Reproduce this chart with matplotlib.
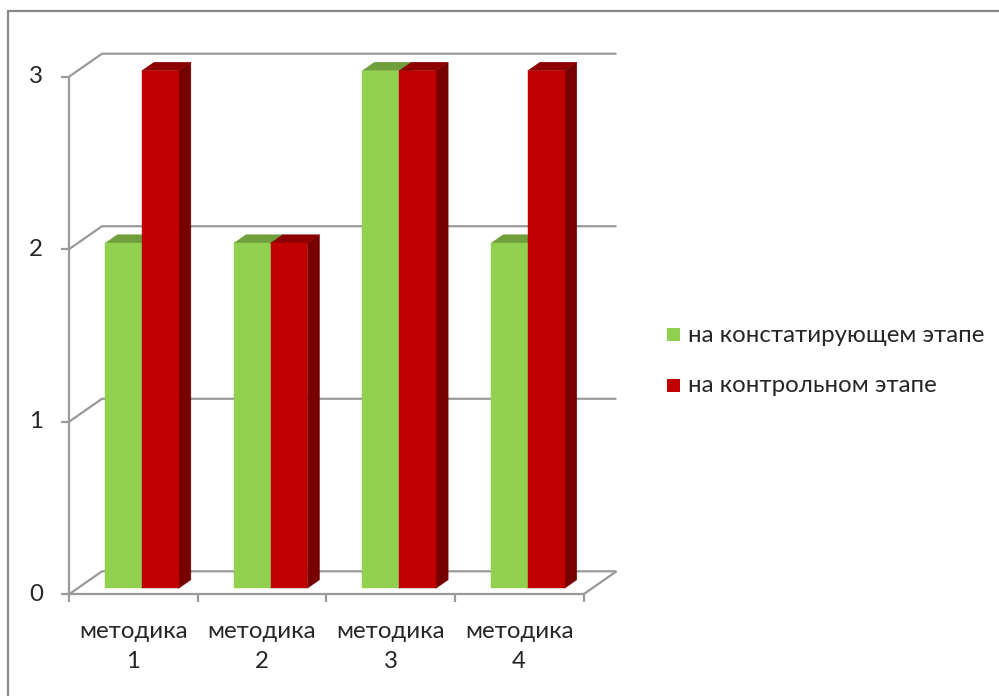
"""Pseudo-3D clustered column chart: results by method at two stages."""
import matplotlib.pyplot as plt
import matplotlib.transforms as mtransforms
import numpy as np
from matplotlib.patches import Polygon, Rectangle

plt.rcParams["font.family"] = ["Lato", "DejaVu Sans"]

categories = ["методика\n1", "методика\n2", "методика\n3", "методика\n4"]
series_names = ["на констатирующем этапе", "на контрольном этапе"]
values_start = [2, 2, 3, 2]
values_control = [3, 2, 3, 3]
y_ticks = [0, 1, 2, 3]

# front / top / side face colours per series
face_colors = [
    ("#92D050", "#6F9F3B", "#5E8A2F"),
    ("#C00000", "#8E0000", "#760000"),
]
grid_color = "#9A9A9A"
text_color = "#262626"

W, H = 999, 696
fig = plt.figure(figsize=(W / 100, H / 100), dpi=100)
fig.patch.set_facecolor("white")

# axes box = front plane of the 3D plot area
ax = fig.add_axes([69 / W, (H - 594.3) / H, 514.5 / W, 517.6 / H])
ax.set_xlim(0, len(categories))
ax.set_ylim(0, max(y_ticks))
ax.set_autoscale_on(False)
ax.axis("off")

DEPTH = np.array([33.0, 23.0])  # back wall offset in pixels
IDENT = mtransforms.IdentityTransform()


def px(x, y, d=0.0):
    """Data point on the front plane pushed back by depth fraction d."""
    return ax.transData.transform((x, y)) + d * DEPTH


def seg(points, **kw):
    pts = np.array(points)
    ax.plot(pts[:, 0], pts[:, 1], transform=IDENT, clip_on=False,
            solid_capstyle="butt", **kw)


def face(points, color, z):
    ax.add_patch(Polygon(np.array(points), closed=True, facecolor=color,
                         edgecolor=color, lw=0.3, transform=IDENT,
                         clip_on=False, zorder=z))


n = len(categories)
grid_kw = dict(color=grid_color, lw=1.6, zorder=1)

# back wall gridlines with the diagonal on the side wall
for v in y_ticks:
    seg([px(0, v), px(0, v, 1), px(n, v, 1)], **grid_kw)
# floor outline
seg([px(n, 0, 1), px(n, 0)], **grid_kw)

# bars
bar_w = 0.286
d_front, d_back = 0.26, 0.63
for i in range(n):
    c = i + 0.5
    for j, vals in enumerate([values_start, values_control]):
        x0 = c - bar_w + j * bar_w
        x1 = x0 + bar_w
        v = vals[i]
        front, top, side = face_colors[j]
        z = 3 + i * 2 + j
        face([px(x1, 0, d_front), px(x1, v, d_front), px(x1, v, d_back),
              px(x1, 0, d_back)], side, z)
        face([px(x0, v, d_front), px(x1, v, d_front), px(x1, v, d_back),
              px(x0, v, d_back)], top, z)
        face([px(x0, 0, d_front), px(x1, 0, d_front), px(x1, v, d_front),
              px(x0, v, d_front)], front, z)

# front axes and ticks
axis_kw = dict(color=grid_color, lw=1.6, zorder=20)
seg([px(0, 0), px(0, max(y_ticks))], **axis_kw)
seg([px(0, 0), px(n, 0)], **axis_kw)
for v in y_ticks:
    p = px(0, v)
    seg([p - (8, 0), p], **axis_kw)
for i in range(n + 1):
    p = px(i, 0)
    seg([p, p - (0, 8)], **axis_kw)

fs = 17.3
ytrans = mtransforms.offset_copy(ax.transData, fig, x=-26, y=0, units="dots")
for v in y_ticks:
    ax.text(0, v, str(v), transform=ytrans, ha="right", va="center",
            fontsize=fs, color=text_color, clip_on=False)

xtrans = mtransforms.offset_copy(ax.transData, fig, x=0, y=-27, units="dots")
for i, lab in enumerate(categories):
    ax.text(i + 0.5, 0, lab, transform=xtrans, ha="center", va="top",
            fontsize=fs, color=text_color, linespacing=1.5,
            multialignment="center", clip_on=False)

# legend
for k, name in enumerate(series_names):
    yc = 335 + k * 51
    fig.patches.append(Rectangle((667 / W, 1 - (yc + 6.5) / H), 13 / W, 13 / H,
                                 transform=fig.transFigure,
                                 facecolor=face_colors[k][0], edgecolor="none"))
    fig.text(688 / W, 1 - yc / H, name, ha="left", va="center",
             fontsize=fs, color=text_color)

# chart area border
fig.patches.append(Rectangle((8 / W, -0.05), 1.1, 1 - 11 / H + 0.05,
                             transform=fig.transFigure, fill=False,
                             edgecolor="#8A8A8A", lw=1.6))

fig.savefig("out.png", dpi=100, facecolor="white")
